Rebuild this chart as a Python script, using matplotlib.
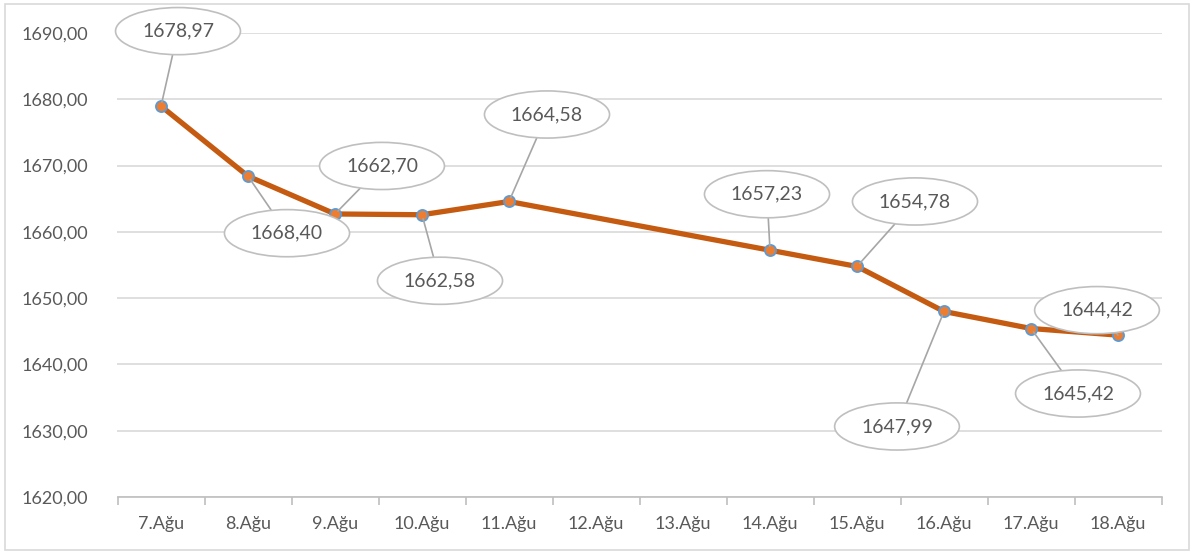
import matplotlib.pyplot as plt
from matplotlib.patches import Rectangle
from matplotlib.ticker import FuncFormatter

categories = ['7.Ağu', '8.Ağu', '9.Ağu', '10.Ağu', '11.Ağu', '12.Ağu',
              '13.Ağu', '14.Ağu', '15.Ağu', '16.Ağu', '17.Ağu', '18.Ağu']
values = [1678.97, 1668.40, 1662.70, 1662.58, 1664.58, None,
          None, 1657.23, 1654.78, 1647.99, 1645.42, 1644.42]

# label offsets in pixels (x, y) relative to each point
label_offsets = [(17, 75), (39, -57), (47, 48), (18, -66), (38, 87), None,
                 None, (-3, 56), (58, 65), (-47, -115), (47, -65), (-21, 25)]


def fmt(v):
    return f'{v:.2f}'.replace('.', ',')


def main():
    plt.rcParams['font.family'] = ['Lato', 'DejaVu Sans']
    fig = plt.figure(figsize=(11.93, 5.52), dpi=100)
    ax = fig.add_axes([117.5 / 1193, 55 / 552, 1044 / 1193, 464 / 552])

    # outer chart frame
    fig.patches.append(Rectangle((5 / 1193, 2 / 552), 1184 / 1193, 546 / 552,
                                 transform=fig.transFigure, fill=False,
                                 edgecolor='#d9d9d9', linewidth=1.2))

    xs = [i for i, v in enumerate(values) if v is not None]
    ys = [v for v in values if v is not None]

    ax.plot(xs, ys, color='#c55a11', linewidth=3.8, zorder=3,
            marker='o', markersize=8, markerfacecolor='#ed7d31',
            markeredgecolor='#5b9bd5', markeredgewidth=1.3)

    for i, v in enumerate(values):
        if v is None:
            continue
        dx, dy = label_offsets[i]
        ax.annotate(fmt(v), xy=(i, v), xytext=(dx, dy), textcoords='offset pixels',
                    ha='center', va='center', fontsize=14, color='#595959', zorder=5,
                    bbox=dict(boxstyle='ellipse,pad=0.42', facecolor='white',
                              edgecolor='#bfbfbf', linewidth=1.2),
                    arrowprops=dict(arrowstyle='-', color='#a6a6a6', linewidth=1.2,
                                    shrinkA=0, shrinkB=3))

    ax.set_xlim(-0.5, len(categories) - 0.5)
    ax.set_ylim(1620, 1690)
    ax.set_yticks(range(1620, 1691, 10))
    ax.yaxis.set_major_formatter(FuncFormatter(lambda v, p: fmt(v)))
    ax.set_xticks(range(len(categories)))
    ax.set_xticklabels(categories)
    ax.set_xticks([i - 0.5 for i in range(len(categories) + 1)], minor=True)

    ax.grid(axis='y', color='#d9d9d9', linewidth=1.2)
    ax.set_axisbelow(True)
    for s in ['top', 'right', 'left']:
        ax.spines[s].set_visible(False)
    ax.spines['bottom'].set_color('#bfbfbf')
    ax.spines['bottom'].set_linewidth(1.2)

    ax.tick_params(axis='y', length=0, pad=21, labelsize=13, labelcolor='#595959')
    ax.tick_params(axis='x', which='major', length=0, pad=14, labelsize=13,
                   labelcolor='#595959')
    ax.tick_params(axis='x', which='minor', length=6, width=1.2, color='#bfbfbf')

    plt.savefig('out.png', dpi=100)


if __name__ == '__main__':
    main()
